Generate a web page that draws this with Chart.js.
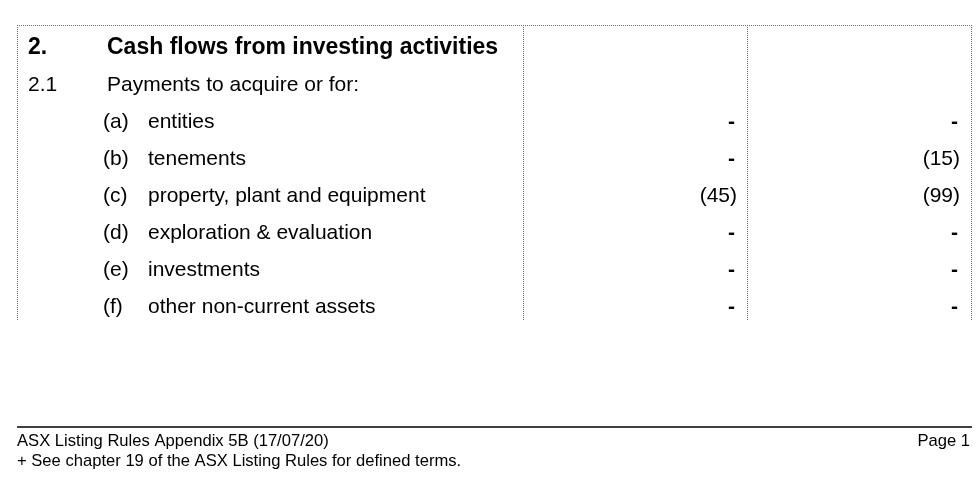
<!DOCTYPE html>
<html>
<head>
<meta charset="utf-8">
<script src="https://cdn.jsdelivr.net/npm/chart.js@4/dist/chart.umd.min.js"></script>
<style>
  html, body { margin: 0; padding: 0; background: #fff; }
  #wrap { width: 980px; height: 481px; position: relative; }
</style>
</head>
<body>
<div id="wrap"><canvas id="cashChart"></canvas></div>
<script>
// row keys shown down the left side
const rowNums = ['2.', '2.1', '', '', '', '', '', ''];
const rowLetters = ['', '', '(a)', '(b)', '(c)', '(d)', '(e)', '(f)'];
const rowLabels = [
    'Cash flows from investing activities',
    'Payments to acquire or for:',
    'entities',
    'tenements',
    'property, plant and equipment',
    'exploration & evaluation',
    'investments',
    'other non-current assets'
];
// $A'000 values, null = no cell value
const currentQuarter = [null, null, 0, 0, -45, 0, 0, 0];
const yearToDate = [null, null, 0, -15, -99, 0, 0, 0];

const footerLeft = [
    'ASX Listing Rules Appendix 5B (17/07/20)',
    '+ See chapter 19 of the ASX Listing Rules for defined terms.'
];
const footerRight = 'Page 1';

// column guides on the x scale
const colBorders = [17, 523, 747, 971];
const colNum = 28, colLetter = 103, colLabel = 148, colHeadLabel = 107;
const colCurrent = 737, colYtd = 960;

const fmt = v => {
    if (v === null) return '';
    if (v === 0) return '-';
    return v < 0 ? '(' + Math.abs(v) + ')' : String(v);
};

const tablePlugin = {
    id: 'tablePlugin',
    afterDraw(chart) {
        const ctx = chart.ctx;
        const x = chart.scales.x;
        const y = chart.scales.y;
        const font = 'Liberation Sans, Arial, sans-serif';

        ctx.save();
        // dotted frame
        ctx.strokeStyle = '#6f6f6f';
        ctx.lineWidth = 1;
        ctx.setLineDash([1, 1]);
        ctx.beginPath();
        ctx.moveTo(x.getPixelForValue(colBorders[0]), 25.5);
        ctx.lineTo(x.getPixelForValue(colBorders[3]), 25.5);
        colBorders.forEach(b => {
            const px = Math.round(x.getPixelForValue(b)) + 0.5;
            ctx.moveTo(px, 25);
            ctx.lineTo(px, 321);
        });
        ctx.stroke();
        ctx.setLineDash([]);

        ctx.fillStyle = '#000';
        ctx.textBaseline = 'alphabetic';
        rowLabels.forEach((label, i) => {
            const py = y.getPixelForValue(i);
            const head = i === 0;
            ctx.font = (head ? 'bold 23px ' : '21px ') + font;
            ctx.textAlign = 'left';
            if (rowNums[i]) ctx.fillText(rowNums[i], x.getPixelForValue(colNum), py);
            if (rowLetters[i]) ctx.fillText(rowLetters[i], x.getPixelForValue(colLetter), py);
            const lx = rowLetters[i] ? colLabel : colHeadLabel;
            ctx.fillText(label, x.getPixelForValue(lx), py);
            ctx.textAlign = 'right';
            [[currentQuarter[i], colCurrent], [yearToDate[i], colYtd]].forEach(([v, cx]) => {
                const s = fmt(v);
                ctx.font = (s === '-' ? 'bold 21px ' : '21px ') + font;
                ctx.fillText(s, x.getPixelForValue(s === '-' ? cx - 2 : cx), py);
            });
        });

        // page footer
        ctx.strokeStyle = '#000';
        ctx.lineWidth = 1.5;
        ctx.beginPath();
        ctx.moveTo(x.getPixelForValue(17), 427);
        ctx.lineTo(x.getPixelForValue(972), 427);
        ctx.stroke();
        ctx.font = '16.6px ' + font;
        ctx.textAlign = 'left';
        ctx.fillText(footerLeft[0], x.getPixelForValue(17), 446);
        ctx.fillText(footerLeft[1], x.getPixelForValue(17), 466);
        ctx.textAlign = 'right';
        ctx.fillText(footerRight, x.getPixelForValue(970), 446);
        ctx.restore();
    }
};

const ctx = document.getElementById('cashChart').getContext('2d');
new Chart(ctx, {
    type: 'bar',
    data: {
        labels: rowLabels,
        datasets: [
            { label: 'Current quarter', data: currentQuarter, backgroundColor: 'rgba(0,0,0,0)', borderWidth: 0 },
            { label: 'Year to date', data: yearToDate, backgroundColor: 'rgba(0,0,0,0)', borderWidth: 0 }
        ]
    },
    options: {
        indexAxis: 'y',
        responsive: true,
        maintainAspectRatio: false,
        animation: false,
        layout: { padding: { top: 54, bottom: 168, left: 0, right: 0 } },
        plugins: { legend: { display: false }, tooltip: { enabled: false } },
        scales: {
            x: { type: 'linear', min: 0, max: 980, display: false },
            y: { type: 'category', offset: false, display: false }
        }
    },
    plugins: [tablePlugin]
});
</script>
</body>
</html>
